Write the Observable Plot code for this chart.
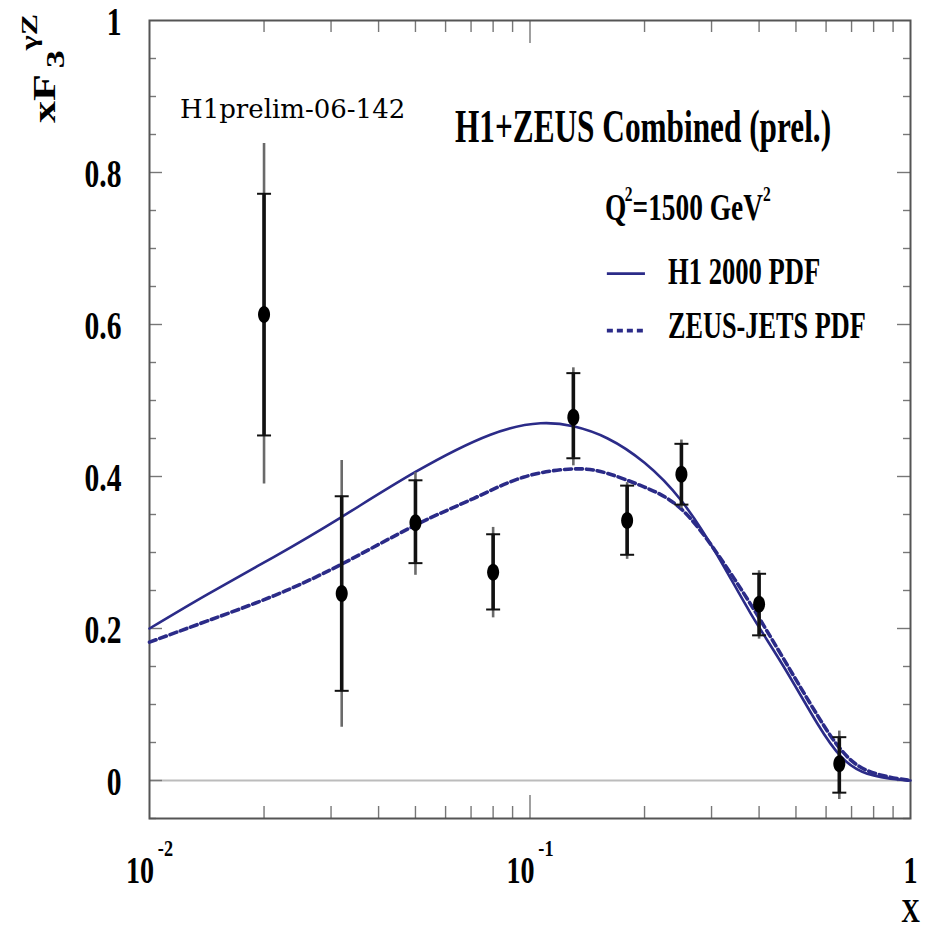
<!DOCTYPE html>
<html>
<head>
<meta charset="utf-8">
<script src="https://cdn.jsdelivr.net/npm/d3@7"></script>
<script src="https://cdn.jsdelivr.net/npm/@observablehq/plot@0.6"></script>
<style>
  html, body { margin: 0; padding: 0; background: #fff; }
</style>
</head>
<body>
<div id="chart"></div>
<script>
// ---------- data ----------
const ptX      = [0.02, 0.032, 0.05, 0.08, 0.13, 0.18, 0.25, 0.40, 0.65];
const ptY      = [0.613, 0.246, 0.339, 0.274, 0.478, 0.342, 0.403, 0.232, 0.022];
const statLo   = [0.454, 0.118, 0.286, 0.225, 0.424, 0.297, 0.363, 0.191, -0.016];
const statHi   = [0.772, 0.374, 0.395, 0.324, 0.536, 0.388, 0.443, 0.272, 0.057];
const totLo    = [0.390, 0.070, 0.270, 0.214, 0.414, 0.291, 0.358, 0.186, -0.025];
const totHi    = [0.838, 0.421, 0.405, 0.333, 0.543, 0.392, 0.448, 0.276, 0.065];

const h1X = [0.01, 0.0142, 0.0212, 0.0318, 0.05, 0.0787, 0.1066, 0.13, 0.16, 0.2, 0.25, 0.311, 0.38, 0.464, 0.569, 0.658, 0.77, 0.94, 1.0];
const h1Y = [0.200, 0.245, 0.294, 0.346, 0.406, 0.455, 0.470, 0.466, 0.450, 0.418, 0.368, 0.296, 0.220, 0.150, 0.075, 0.031, 0.009, 0.001, 0.0];

const zjX = [0.01, 0.0142, 0.0212, 0.0318, 0.05, 0.071, 0.096, 0.13, 0.16, 0.2, 0.25, 0.311, 0.38, 0.464, 0.569, 0.658, 0.77, 0.94, 1.0];
const zjY = [0.182, 0.210, 0.243, 0.284, 0.336, 0.371, 0.399, 0.410, 0.404, 0.386, 0.357, 0.298, 0.232, 0.160, 0.086, 0.040, 0.013, 0.002, 0.0];

const xLabelTicks = [0.01, 0.1, 1];
const xLabelText  = ["10^-2", "10^-1", "1"];
const xMajorTicks = [0.1];
const xMinorTicks = [0.02, 0.03, 0.04, 0.05, 0.06, 0.07, 0.08, 0.09, 0.2, 0.3, 0.4, 0.5, 0.6, 0.7, 0.8, 0.9];
const yLabelTicks = [0, 0.2, 0.4, 0.6, 0.8, 1];
const yLabelText  = ["0", "0.2", "0.4", "0.6", "0.8", "1"];
const yMajorTicks = [0, 0.2, 0.4, 0.6, 0.8];
const yMinorTicks = [-0.05, 0.05, 0.1, 0.15, 0.25, 0.3, 0.35, 0.45, 0.5, 0.55, 0.65, 0.7, 0.75, 0.85, 0.9, 0.95];

const titleText  = "H1+ZEUS Combined (prel.)";
const prelimText = "H1prelim-06-142";
const legendH1   = "H1 2000 PDF";
const legendZJ   = "ZEUS-JETS PDF";

// ---------- tables ----------
const points = ptX.map((x, i) => ({x, y: ptY[i], sLo: statLo[i], sHi: statHi[i], tLo: totLo[i], tHi: totHi[i]}));
const h1 = h1X.map((x, i) => ({x, y: h1Y[i]}));
const zj = zjX.map((x, i) => ({x, y: zjY[i]}));

// ---------- layout ----------
const W = 926, H = 930;
const mL = 149, mR = 16, mT = 20, mB = 112;
const innerW = W - mL - mR, innerH = H - mT - mB;
const SERIF = "'Liberation Serif', 'Times New Roman', serif";
const BLUE = "#2b2b88";
const SQ = 0.72;

const ellipse = {draw(ctx) {
  const rx = 6, ry = 8.5, k = 0.5523;
  ctx.moveTo(rx, 0);
  ctx.bezierCurveTo(rx, ry * k, rx * k, ry, 0, ry);
  ctx.bezierCurveTo(-rx * k, ry, -rx, ry * k, -rx, 0);
  ctx.bezierCurveTo(-rx, -ry * k, -rx * k, -ry, 0, -ry);
  ctx.bezierCurveTo(rx * k, -ry, rx, -ry * k, rx, 0);
  ctx.closePath();
}};
const cap = {draw(ctx) { ctx.moveTo(-7, 0); ctx.lineTo(7, 0); }};

const tickStyle = {stroke: "#777", strokeWidth: 1.4};

const chart = Plot.plot({
  width: W, height: H,
  marginLeft: mL, marginRight: mR, marginTop: mT, marginBottom: mB,
  style: {fontFamily: SERIF, fontWeight: "bold", color: "#000", background: "#fff", overflow: "visible"},
  x: {type: "log", domain: [0.01, 1]},
  y: {domain: [-0.05, 1]},
  marks: [
    Plot.ruleY([0], {stroke: "#bcbcbc", strokeWidth: 2}),
    // inside ticks, all four sides
    Plot.ruleX(xMinorTicks, {...tickStyle, insetTop: innerH - 12}),
    Plot.ruleX(xMajorTicks, {...tickStyle, insetTop: innerH - 23}),
    Plot.ruleX(xMinorTicks, {...tickStyle, insetBottom: innerH - 12}),
    Plot.ruleX(xMajorTicks, {...tickStyle, insetBottom: innerH - 23}),
    Plot.ruleY(yMinorTicks, {...tickStyle, insetRight: innerW - 7}),
    Plot.ruleY(yMajorTicks, {...tickStyle, insetRight: innerW - 13}),
    Plot.ruleY(yMinorTicks, {...tickStyle, insetLeft: innerW - 7}),
    Plot.ruleY(yMajorTicks, {...tickStyle, insetLeft: innerW - 13}),
    Plot.frame({stroke: "#555", strokeWidth: 2}),
    Plot.axisX({ticks: xLabelTicks, tickSize: 0, tickPadding: 38, fontSize: 37, label: null,
      tickFormat: d => xLabelText[xLabelTicks.indexOf(d)]}),
    Plot.axisY({ticks: yLabelTicks, tickSize: 0, tickPadding: 28, fontSize: 40, label: null,
      tickFormat: d => yLabelText[yLabelTicks.indexOf(d)]}),
    // theory curves
    Plot.line(h1, {x: "x", y: "y", stroke: BLUE, strokeWidth: 2.6, curve: "natural"}),
    Plot.line(zj, {x: "x", y: "y", stroke: BLUE, strokeWidth: 3.6, strokeDasharray: "7,4", curve: "natural"}),
    // legend swatches
    Plot.ruleY([0.667], {x1: 0.1597, x2: 0.2011, stroke: BLUE, strokeWidth: 2.6}),
    Plot.ruleY([0.592], {x1: 0.1597, x2: 0.2011, stroke: BLUE, strokeWidth: 3.6, strokeDasharray: "6,4"}),
    // data with error bars
    Plot.ruleX(points, {x: "x", y1: "tLo", y2: "tHi", stroke: "#6a6a6a", strokeWidth: 2.6}),
    Plot.ruleX(points, {x: "x", y1: "sLo", y2: "sHi", stroke: "#111", strokeWidth: 3.6}),
    Plot.dot(points, {x: "x", y: "sLo", symbol: cap, stroke: "#111", strokeWidth: 2, fill: "none"}),
    Plot.dot(points, {x: "x", y: "sHi", symbol: cap, stroke: "#111", strokeWidth: 2, fill: "none"}),
    Plot.dot(points, {x: "x", y: "y", symbol: ellipse, fill: "#000", stroke: null})
  ]
});

document.getElementById("chart").appendChild(chart);

// ---------- text post-processing (horizontally condensed serif, like the original) ----------
function squash(t, s, shiftY = 0) {
  const xs = t.getAttribute("x");
  const ok = xs && !isNaN(+xs);
  const x = ok ? +xs : 0;
  if (ok) t.removeAttribute("x");
  const tr = t.getAttribute("transform") || "";
  t.setAttribute("transform", `${tr} translate(${x},${shiftY}) scale(${s},1)`);
}
const NS = "http://www.w3.org/2000/svg";
chart.querySelectorAll('g[aria-label="y-axis tick label"] text').forEach(t => squash(t, 0.74, 2));
chart.querySelectorAll('g[aria-label="x-axis tick label"] text').forEach(t => {
  const s = t.textContent;
  squash(t, 0.76);
  if (s.includes("^")) {
    const [b, e] = s.split("^");
    t.textContent = "";
    const a = document.createElementNS(NS, "tspan"); a.textContent = b; t.appendChild(a);
    const c = document.createElementNS(NS, "tspan");
    c.setAttribute("dy", "-27"); c.setAttribute("dx", "5"); c.setAttribute("font-size", "24");
    c.textContent = e; t.appendChild(c);
  }
});

const svg = d3.select(chart);
function txt(x, y, size, opts = {}) {
  const sx = opts.sx ?? SQ;
  return svg.append("text")
    .attr("transform", `translate(${x},${y})` + (opts.rotate ? ` rotate(${opts.rotate}) scale(1,${sx})` : ` scale(${sx},1)`))
    .attr("font-family", opts.family ?? SERIF)
    .attr("font-weight", opts.weight ?? "bold")
    .attr("font-size", size)
    .attr("text-anchor", opts.anchor ?? "start")
    .attr("fill", "#000");
}

// title
txt(455, 142, 46, {sx: 0.68}).text(titleText);
// preliminary number
txt(180, 118, 26, {sx: 1, family: "'DejaVu Serif', serif", weight: "normal"}).text(prelimText);
// Q^2 line
const q = txt(605, 220, 37, {sx: 0.74});
q.append("tspan").text("Q");
q.append("tspan").attr("font-size", 21).attr("dy", -19).attr("dx", -2).text("2");
q.append("tspan").attr("dy", 19).text("=1500 GeV");
q.append("tspan").attr("font-size", 21).attr("dy", -19).text("2");
// legend labels
txt(668, 284, 37, {sx: 0.72}).text(legendH1);
txt(668, 338, 37, {sx: 0.71}).text(legendZJ);
// x axis title
txt(920, 922, 34, {anchor: "end", sx: 0.76}).text("X");
// y axis title (rotated)
const yt = txt(55, 123, 44, {rotate: -90, sx: 0.72});
yt.append("tspan").text("xF");
yt.append("tspan").attr("font-size", 36).attr("dy", 13).attr("dx", 6).text("3");
yt.append("tspan").attr("font-size", 32).attr("dy", -38).attr("dx", 0).text("γZ");
</script>
</body>
</html>
